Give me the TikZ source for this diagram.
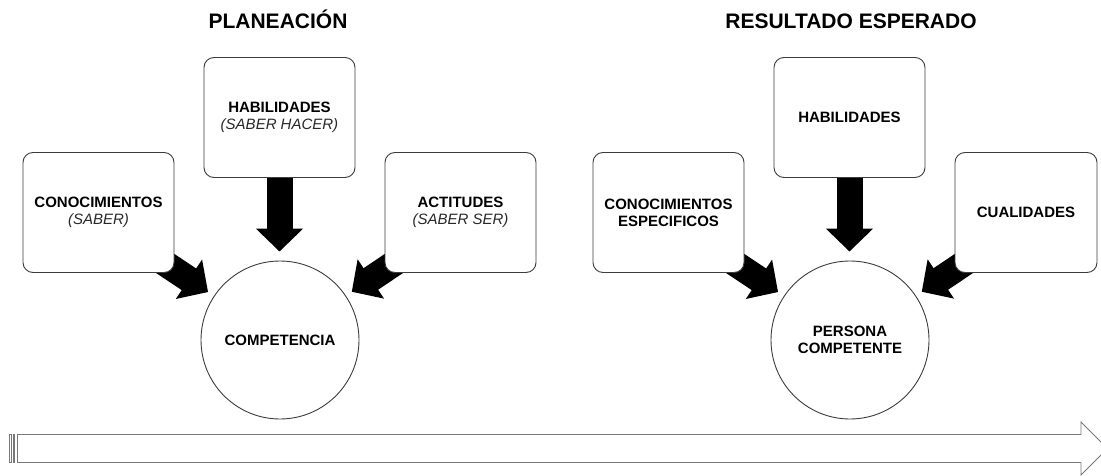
\documentclass[tikz,border=0pt]{standalone}
\usepackage{fontspec}
\setmainfont{Liberation Sans}
\usetikzlibrary{arrows.meta,calc}
\pgfdeclarelayer{bg}
\pgfsetlayers{bg,main}
\definecolor{boxline}{HTML}{3C3C3C}
\definecolor{bandgray}{HTML}{787878}
\definecolor{subgray}{HTML}{282828}
\newcommand\subtxt[1]{{\mdseries\itshape\color{subgray}#1}}

\begin{document}
\begin{tikzpicture}[x=1pt,y=-1pt,
  card/.style={draw=boxline, line width=0.9pt, fill=white, rounded corners=10pt,
    minimum width=151pt, minimum height=120pt, inner sep=0pt, align=center,
    font=\bfseries\fontsize{15}{17}\selectfont},
  ring/.style={circle, draw=boxline, line width=0.9pt, fill=white,
    minimum size=158pt, inner sep=0pt, align=center,
    font=\bfseries\fontsize{15}{17}\selectfont},
  heading/.style={anchor=base, inner sep=0pt, font=\bfseries\fontsize{21}{24}\selectfont},
  blockarrow/.style={line width=26pt, black, -{Triangle[width=46pt,length=23pt]}},
  band/.style={draw=bandgray, line width=0.9pt, fill=white}
]
\useasboundingbox (0,0) rectangle (1101,476);

% titles
\node[heading] (t1) at (278,28.5) {PLANEACIÓN};
\node[heading] (t2) at (851,28.5) {RESULTADO ESPERADO};

% planning group
\node[card] (con1) at (98.5,212.5) {CONOCIMIENTOS\\\subtxt{(SABER)}};
\node[card] (hab1) at (279.5,117.5) {HABILIDADES\\\subtxt{(SABER HACER)}};
\node[card] (act1) at (460.5,212.5) {ACTITUDES\\\subtxt{(SABER SER)}};
\node[ring] (comp) at (280,340) {COMPETENCIA};

% expected result group
\node[card] (con2) at (668.5,212.5) {CONOCIMIENTOS\\ESPECIFICOS};
\node[card] (hab2) at (849.5,117.5) {HABILIDADES};
\node[card, minimum width=142pt] (cual) at (1026,212.5) {CUALIDADES};
\node[ring] (pers) at (850,340) {PERSONA\\COMPETENTE};

% arrow tails start behind the boxes
\coordinate (s1) at ($(con1.south east)+(-28,-22)$);
\coordinate (s2) at ($(act1.south west)+(28,-22)$);
\coordinate (s3) at ($(con2.south east)+(-28,-22)$);
\coordinate (s4) at ($(cual.south west)+(28,-22)$);

\begin{pgfonlayer}{bg}
  \draw[blockarrow, shorten >=9pt] (hab1.south) -- (hab1.south |- comp.north);
  \draw[blockarrow, shorten >=7pt] (s1) -- (comp);
  \draw[blockarrow, shorten >=7pt] (s2) -- (comp);
  \draw[blockarrow, shorten >=9pt] (hab2.south) -- (hab2.south |- pers.north);
  \draw[blockarrow, shorten >=7pt] (s3) -- (pers);
  \draw[blockarrow, shorten >=7pt] (s4) -- (pers);
\end{pgfonlayer}

% striped timeline arrow along the bottom
\draw[band] (9.5,434.5) rectangle (11,462.5);
\draw[band] (13.5,434.5) rectangle (14.2,462.5);
\draw[band] (17.5,434.5) -- (1081,434.5) -- (1081,422) -- (1107.5,448.5)
  -- (1081,475) -- (1081,462.5) -- (17.5,462.5) -- cycle;
\end{tikzpicture}
\end{document}
